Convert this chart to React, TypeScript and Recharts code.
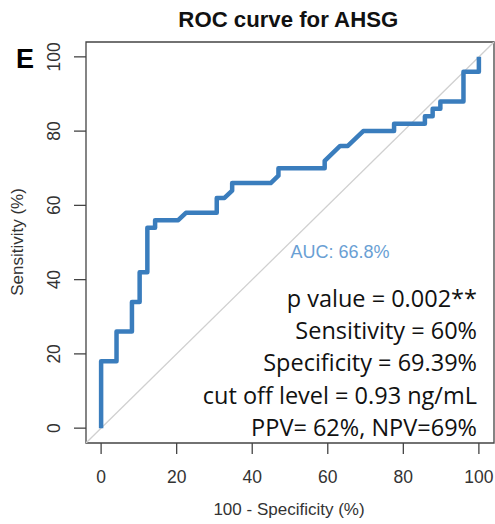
import React from "react";
import { LineChart, Line, XAxis, YAxis, ReferenceArea } from "recharts";

// 100 - specificity (%) and sensitivity (%) at each ROC step
const fpr = [0, 0, 4.08, 4.08, 8.16, 8.16, 10.2, 10.2, 12.24, 12.24, 14.29, 14.29, 20.41, 22.45, 30.61, 30.61, 32.65, 34.69, 34.69, 44.9, 46.94, 46.94, 59.18, 59.18, 63.27, 65.31, 69.39, 77.55, 77.55, 85.71, 85.71, 87.76, 87.76, 89.8, 89.8, 95.92, 95.92, 100, 100];
const tpr = [0, 18, 18, 26, 26, 34, 34, 42, 42, 54, 54, 56, 56, 58, 58, 62, 62, 64, 66, 66, 68, 70, 70, 72, 76, 76, 80, 80, 82, 82, 84, 84, 86, 86, 88, 88, 96, 96, 100];

const diagX = [-4, 104];
const diagY = [-4, 104];

const xTicks = [0, 20, 40, 60, 80, 100];
const yTicks = [0, 20, 40, 60, 80, 100];

const titleText = "ROC curve for AHSG";
const panelLetter = "E";
const xLabel = "100 - Specificity (%)";
const yLabel = "Sensitivity (%)";
const aucText = "AUC: 66.8%";
const notes = [
  "p value = 0.002**",
  "Sensitivity = 60%",
  "Specificity = 69.39%",
  "cut off level = 0.93 ng/mL",
  "PPV= 62%, NPV=69%",
];

const curveData = fpr.map((x, i) => ({ x, y: tpr[i] }));
const diagData = diagX.map((x, i) => ({ x, y: diagY[i] }));

const AXIS_FONT = "'Liberation Sans', Arial, sans-serif";

const XTick = (props: any) => {
  const { x, y, payload } = props;
  return (
    <text x={x} y={y} dy={27} textAnchor="middle" fontFamily={AXIS_FONT} fontSize={17.5} fill="#333">
      {payload.value}
    </text>
  );
};

const YTick = (props: any) => {
  const { x, y, payload } = props;
  return (
    <text
      transform={`translate(${x - 12},${y}) rotate(-90)`}
      textAnchor="middle"
      fontFamily={AXIS_FONT}
      fontSize={17.5}
      fill="#333"
    >
      {payload.value}
    </text>
  );
};

export default function App() {
  return (
    <div style={{ position: "absolute", left: 0, top: 0, width: 495, height: 524, background: "#fff" }}>
      <LineChart width={495} height={524} margin={{ top: 42, right: 1, bottom: 0, left: 0 }}>
        <XAxis
          dataKey="x"
          type="number"
          domain={[-4, 104]}
          ticks={xTicks}
          allowDataOverflow
          height={81}
          axisLine={false}
          tickSize={11}
          tickLine={{ stroke: "#444", strokeWidth: 1.3 }}
          tick={<XTick />}
        />
        <YAxis
          dataKey="y"
          type="number"
          domain={[-4, 104]}
          ticks={yTicks}
          allowDataOverflow
          width={86}
          axisLine={false}
          tickSize={12}
          tickLine={{ stroke: "#444", strokeWidth: 1.3 }}
          tick={<YTick />}
        />
        <ReferenceArea x1={-4} x2={104} y1={-4} y2={104} fill="none" fillOpacity={0} stroke="#444" strokeWidth={1.3} />
        <Line
          data={diagData}
          dataKey="y"
          type="linear"
          stroke="#d0d0d0"
          strokeWidth={1.3}
          dot={false}
          activeDot={false}
          isAnimationActive={false}
        />
        <Line
          data={curveData}
          dataKey="y"
          type="linear"
          stroke="#3a7dbd"
          strokeWidth={4.5}
          strokeLinejoin="round"
          dot={false}
          activeDot={false}
          isAnimationActive={false}
        />
        <text x={288.3} y={27.3} textAnchor="middle" fontFamily={AXIS_FONT} fontWeight="bold" fontSize={22.2} fill="#111">
          {titleText}
        </text>
        <text x={16} y={68} fontFamily={AXIS_FONT} fontWeight="bold" fontSize={27} fill="#000">
          {panelLetter}
        </text>
        <text x={289} y={515} textAnchor="middle" fontFamily={AXIS_FONT} fontSize={17} fill="#333">
          {xLabel}
        </text>
        <text transform="translate(23,242) rotate(-90)" textAnchor="middle" fontFamily={AXIS_FONT} fontSize={17} fill="#333">
          {yLabel}
        </text>
        <text x={340} y={258.3} textAnchor="middle" fontFamily={AXIS_FONT} fontSize={18} fill="#6a9fd4">
          {aucText}
        </text>
        {notes.map((t, i) => (
          <text key={i} x={477} y={307 + i * 32.2} textAnchor="end" fontFamily="'Open Sans', sans-serif" fontSize={23.5} fill="#111">
            {t}
          </text>
        ))}
      </LineChart>
    </div>
  );
}
